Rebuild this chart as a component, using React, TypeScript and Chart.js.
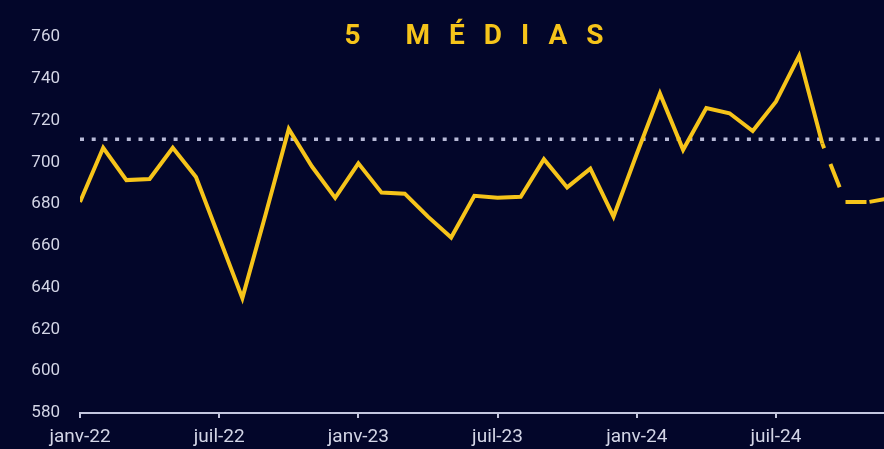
import React, { useEffect, useRef } from "react";
import { Chart, registerables } from "chart.js";

Chart.register(...registerables);

// Month index 0 = janv-22
const monthIndex = [0, 1, 2, 3, 4, 5, 6, 7, 8, 9, 10, 11, 12, 13, 14, 15, 16, 17, 18, 19, 20, 21, 22, 23, 24, 25, 26, 27, 28, 29, 30, 31, 32, 33, 34, 35];
const values = [681, 707, 691.5, 692, 707, 693, 664, 635, 675, 716, 698, 683, 699.5, 685.5, 685, 674, 664, 684, 683, 683.5, 701.5, 688, 697, 674, 704, 733, 706, 726, 723.5, 715, 729, 751, 709, 681, 681, 683];
const dashedFrom = 32; // segments after this index are drawn dashed
const referenceValue = 711;
const tickMonths = [0, 6, 12, 18, 24, 30];
const tickLabels = ["janv-22", "juil-22", "janv-23", "juil-23", "janv-24", "juil-24"];
const yTicks = [580, 600, 620, 640, 660, 680, 700, 720, 740, 760];
const title = "5 MÉDIAS";

const BG = "#03062a";
const GOLD = "#f6c41a";
const AXIS = "#c3c6df";
const LABEL = "#d3d5e6";
const SPACING = 19;

export default function App() {
  const ref = useRef<HTMLCanvasElement | null>(null);

  useEffect(() => {
    if (!ref.current) return;
    const titlePlugin = {
      id: "spacedTitle",
      afterDraw(chart: any) {
        const ctx = chart.ctx as CanvasRenderingContext2D;
        ctx.save();
        ctx.font = "bold 28px Roboto";
        (ctx as any).letterSpacing = SPACING + "px";
        ctx.fillStyle = GOLD;
        ctx.textAlign = "left";
        ctx.textBaseline = "alphabetic";
        const w = ctx.measureText(title).width - SPACING;
        ctx.fillText(title, 474 - w / 2, 44);
        ctx.restore();
      },
    };

    const chart = new Chart(ref.current, {
      type: "line",
      data: {
        datasets: [
          {
            data: monthIndex.map((m, i) => ({ x: m, y: values[i] })),
            borderColor: GOLD,
            borderWidth: 4,
            pointRadius: 0,
            tension: 0,
            borderJoinStyle: "miter",
            segment: {
              borderDash: (ctx: any) => {
                const i = ctx.p0DataIndex;
                if (i === dashedFrom) return [5, 17, 25, 40];
                if (i > dashedFrom) return [21, 3];
                return undefined;
              },
            },
          } as any,
          {
            data: [
              { x: 0, y: referenceValue },
              { x: 35, y: referenceValue },
            ],
            borderColor: "#b7b9d6",
            borderWidth: 3.5,
            borderDash: [4, 7.7],
            pointRadius: 0,
          },
        ],
      },
      options: {
        animation: false,
        responsive: false,
        maintainAspectRatio: false,
        layout: { padding: { top: 37, right: 0, bottom: 1, left: 0 } },
        plugins: {
          legend: { display: false },
          tooltip: { enabled: false },
          title: { display: false },
        },
        scales: {
          x: {
            type: "linear",
            min: 0,
            max: 34.66,
            afterBuildTicks: (scale: any) => {
              scale.ticks = tickMonths.map((v) => ({ value: v }));
            },
            afterFit: (scale: any) => {
              scale.height = 35;
            },
            ticks: {
              color: LABEL,
              font: { family: "Roboto", size: 19 },
              padding: 8,
              maxRotation: 0,
              autoSkip: false,
              callback: (v: any) => {
                const i = tickMonths.indexOf(Number(v));
                return i >= 0 ? tickLabels[i] : "";
              },
            },
            grid: { drawOnChartArea: false, drawTicks: true, tickLength: 5, color: AXIS, lineWidth: 2 },
            border: { display: true, color: AXIS, width: 2 },
          },
          y: {
            type: "linear",
            min: 580,
            max: 760,
            afterBuildTicks: (scale: any) => {
              scale.ticks = yTicks.map((v) => ({ value: v }));
            },
            afterFit: (scale: any) => {
              scale.width = 80;
            },
            ticks: {
              color: LABEL,
              font: { family: "Roboto", size: 17 },
              padding: 20,
            },
            grid: { display: false, drawTicks: false },
            border: { display: false },
          },
        },
      } as any,
      plugins: [titlePlugin],
    });
    return () => chart.destroy();
  }, []);

  return (
    <div style={{ position: "fixed", left: 0, top: 0, width: 884, height: 449, background: BG, overflow: "hidden" }}>
      <canvas ref={ref} width={884} height={449} style={{ display: "block" }} />
    </div>
  );
}
